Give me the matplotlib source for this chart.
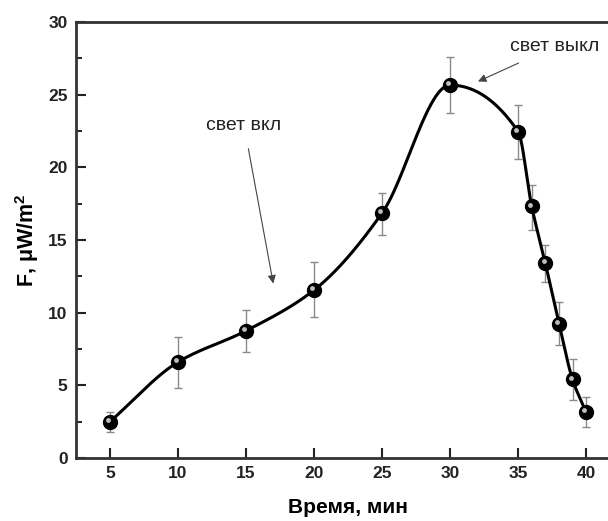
import numpy as np
import matplotlib.pyplot as plt
import matplotlib.transforms as mtransforms
from matplotlib.ticker import MultipleLocator

plt.rcParams['font.family'] = ['Liberation Sans', 'DejaVu Sans']

time_min = [5, 10, 15, 20, 25, 30, 35, 36, 37, 38, 39, 40]
flux = [2.5, 6.6, 8.75, 11.55, 16.85, 25.65, 22.45, 17.3, 13.4, 9.25, 5.4, 3.15]
err_low = [0.7, 1.8, 1.45, 1.85, 1.5, 1.95, 1.85, 1.6, 1.3, 1.5, 1.4, 1.05]
err_high = [0.65, 1.7, 1.45, 1.9, 1.4, 1.95, 1.85, 1.5, 1.25, 1.5, 1.4, 1.05]


def pchip(x, y, xs):
    # monotone cubic (Fritsch-Carlson), only used to draw the smooth line
    x = np.asarray(x, float)
    y = np.asarray(y, float)
    h = np.diff(x)
    s = np.diff(y) / h
    n = len(x)
    d = np.zeros(n)
    for i in range(1, n - 1):
        if s[i - 1] * s[i] > 0:
            w1 = 2 * h[i] + h[i - 1]
            w2 = h[i] + 2 * h[i - 1]
            d[i] = (w1 + w2) / (w1 / s[i - 1] + w2 / s[i])
    d[0] = s[0]
    d[-1] = s[-1]
    idx = np.clip(np.searchsorted(x, xs) - 1, 0, n - 2)
    hh = h[idx]
    t = (xs - x[idx]) / hh
    h00 = 2 * t**3 - 3 * t**2 + 1
    h10 = t**3 - 2 * t**2 + t
    h01 = -2 * t**3 + 3 * t**2
    h11 = t**3 - t**2
    return h00 * y[idx] + h10 * hh * d[idx] + h01 * y[idx + 1] + h11 * hh * d[idx + 1]


fig = plt.figure(figsize=(6.08, 5.21), dpi=100)
ax = fig.add_axes([0.125, 0.121, 0.895, 0.837])

xs = np.linspace(time_min[0], time_min[-1], 800)
ax.plot(xs, pchip(time_min, flux, xs), color='black', lw=2.2, zorder=2)

ax.errorbar(time_min, flux, yerr=[err_low, err_high], fmt='none',
            ecolor='#8a8a8a', elinewidth=1, capsize=3, capthick=1, zorder=1)
ax.plot(time_min, flux, 'o', color='black', ms=10, zorder=3)
# small highlight to imitate the shaded balls
shift = mtransforms.offset_copy(ax.transData, fig=fig, x=-1.3, y=1.3, units='points')
ax.plot(time_min, flux, 'o', color='#bdbdbd', ms=3.5, mec='none', zorder=4,
        transform=shift)

ax.annotate('свет вкл', xy=(17.0, 12.0), xytext=(14.85, 22.9),
            ha='center', va='center', fontsize=14, color='#222222',
            arrowprops=dict(arrowstyle='-|>', color='#444444', lw=0.8,
                            shrinkA=9, shrinkB=0, mutation_scale=12))
ax.annotate('свет выкл', xy=(32.05, 25.9), xytext=(37.7, 28.3),
            ha='center', va='center', fontsize=14, color='#222222',
            arrowprops=dict(arrowstyle='-|>', color='#444444', lw=0.8,
                            shrinkA=9, shrinkB=0, mutation_scale=12))

ax.set_xlim(2.5, 42.5)
ax.set_ylim(0, 30)
ax.xaxis.set_major_locator(MultipleLocator(5))
ax.yaxis.set_major_locator(MultipleLocator(5))
ax.yaxis.set_minor_locator(MultipleLocator(2.5))
ax.tick_params(direction='in', length=7, width=1.5, labelsize=12.5,
               colors='#222222', pad=6)
ax.tick_params(which='minor', direction='in', length=4, width=1.2)
for lab in ax.get_xticklabels() + ax.get_yticklabels():
    lab.set_fontweight('bold')
for sp in ax.spines.values():
    sp.set_linewidth(2)
    sp.set_color('#333333')

ax.set_xlabel('Время, мин', fontsize=15, fontweight='bold', labelpad=12)
ax.set_ylabel(r'F, $\mathregular{\mu}$W/m$\mathregular{^2}$', fontsize=15.5,
              fontweight='bold', labelpad=5)

fig.savefig('out.png', dpi=100)
